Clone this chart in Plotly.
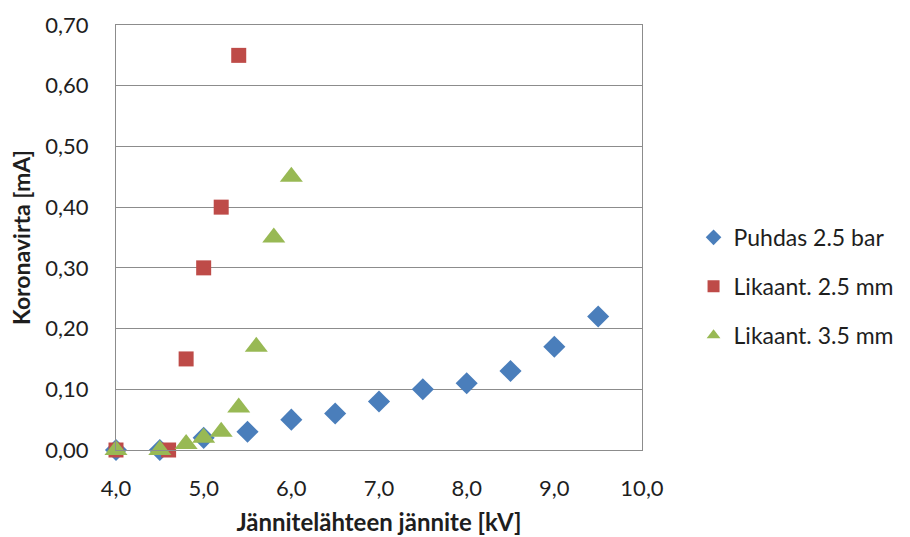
import plotly.graph_objects as go

# Measured corona current versus source voltage
puhdas_x = [4.0, 4.5, 5.0, 5.5, 6.0, 6.5, 7.0, 7.5, 8.0, 8.5, 9.0, 9.5]
puhdas_y = [0.00, 0.00, 0.02, 0.03, 0.05, 0.06, 0.08, 0.10, 0.11, 0.13, 0.17, 0.22]

lik25_x = [4.0, 4.6, 4.8, 5.0, 5.2, 5.4]
lik25_y = [0.00, 0.00, 0.15, 0.30, 0.40, 0.65]

lik35_x = [4.0, 4.5, 4.8, 5.0, 5.2, 5.4, 5.6, 5.8, 6.0]
lik35_y = [0.00, 0.00, 0.01, 0.02, 0.03, 0.07, 0.17, 0.35, 0.45]

series_names = ["Puhdas 2.5 bar", "Likaant. 2.5 mm", "Likaant. 3.5 mm"]

FONT = "Lato"
TEXT = "#1e1e1e"
GRID = "#8c8c8c"

fig = go.Figure()
fig.add_trace(go.Scatter(
    x=puhdas_x, y=puhdas_y, mode="markers", name=series_names[0], legendgroup="a",
    marker=dict(symbol="diamond", size=17, color="#4a7ebb", line=dict(width=0)),
    cliponaxis=False))
fig.add_trace(go.Scatter(
    x=lik25_x, y=lik25_y, mode="markers", name=series_names[1], legendgroup="b",
    marker=dict(symbol="square", size=15, color="#be4b48", line=dict(width=0)),
    cliponaxis=False))
fig.add_trace(go.Scatter(
    x=lik35_x, y=lik35_y, mode="markers", name=series_names[2], legendgroup="c",
    marker=dict(symbol="triangle-up", size=20, color="#98b954", line=dict(width=0)),
    cliponaxis=False))

fig.update_layout(
    width=910, height=537,
    margin=dict(l=116, r=265, t=25, b=87),
    paper_bgcolor="white", plot_bgcolor="white",
    separators=", ",
    font=dict(family=FONT, size=22, color=TEXT),
    legend=dict(x=1.098, y=0.385, xanchor="left", yanchor="middle",
                font=dict(family=FONT, size=23, color=TEXT),
                tracegroupgap=16, itemsizing="constant"),
    xaxis=dict(range=[4.0, 10.0], dtick=1, tickformat=".1f", automargin=False,
               tickfont=dict(family=FONT, size=22, color=TEXT),
               showgrid=False, showline=True, linecolor=GRID, linewidth=1.3,
               mirror=True, zeroline=False, ticks="", ticklabelstandoff=18,
               title=dict(text="<b>Jännitelähteen jännite [kV]</b>", standoff=14,
                          font=dict(family=FONT, size=24, color=TEXT))),
    yaxis=dict(range=[0, 0.70], dtick=0.1, tickformat=".2f", automargin=False,
               tickfont=dict(family=FONT, size=22, color=TEXT),
               showgrid=True, gridcolor=GRID, gridwidth=1.3,
               showline=True, linecolor=GRID, linewidth=1.3,
               mirror=True, zeroline=False, ticks="", ticklabelstandoff=22,
               title=dict(text="<b>Koronavirta [mA]</b>", standoff=8,
                          font=dict(family=FONT, size=23, color=TEXT))),
)

fig.write_html("out.html")
